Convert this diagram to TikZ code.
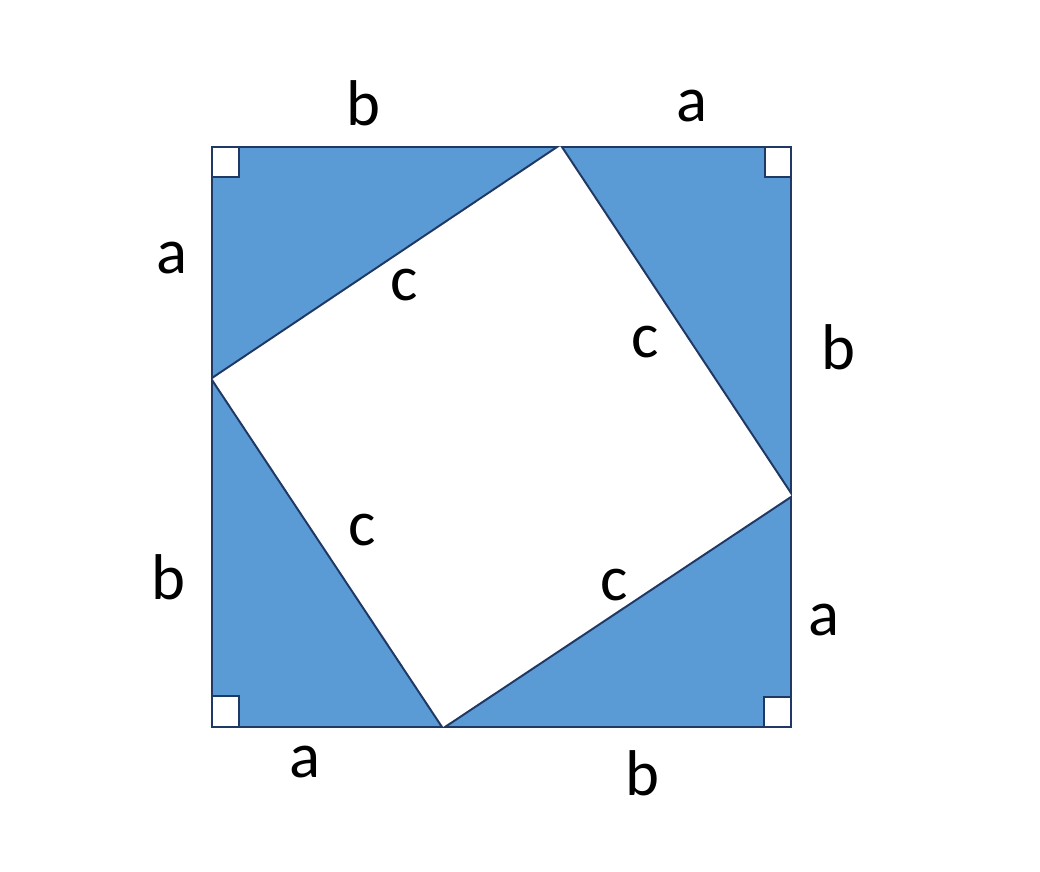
\documentclass[tikz,border=0pt]{standalone}
\usepackage{fontspec}
\setmainfont{Carlito}
\definecolor{edgeblue}{HTML}{203864}
\definecolor{fillblue}{HTML}{5B9BD5}

\begin{document}
\begin{tikzpicture}[
    x=0.025cm, y=-0.025cm,
    tri/.style={draw=edgeblue, fill=fillblue, line width=1.4pt, line join=miter},
    corner/.style={draw=edgeblue, fill=white, line width=1.4pt},
    lbl/.style={font=\fontsize{46}{50}\selectfont, inner sep=0pt}
]
\useasboundingbox (0,0) rectangle (1040,872);

% Vertices
\coordinate (tl) at (212,147);
\coordinate (tr) at (791,147);
\coordinate (bl) at (212,727);
\coordinate (br) at (791,727);
\coordinate (top1) at (557,147);
\coordinate (top2) at (562,147);
\coordinate (right1) at (791,493);
\coordinate (right2) at (791,497);
\coordinate (bot1) at (442,727);
\coordinate (bot2) at (445,727);
\coordinate (left1) at (212,378);
\coordinate (left2) at (212,380);

% Four right triangles
\draw[tri] (tl) -- (top1) -- (left1) -- cycle;
\draw[tri] (top2) -- (tr) -- (right1) -- cycle;
\draw[tri] (right2) -- (br) -- (bot2) -- cycle;
\draw[tri] (left2) -- (bl) -- (bot1) -- cycle;

% Right-angle marks
\draw[corner] (tl) rectangle ++(27,30);
\draw[corner] (tr) rectangle ++(-26,30);
\draw[corner] (bl) rectangle ++(27,-31);
\draw[corner] (br) rectangle ++(-27,-30);

% Labels
\node[lbl] (btop) at (363,103) {b};
\node[lbl] (atop) at (692,106) {a};
\node[lbl] (aleft) at (172,258) {a};
\node[lbl] (c1) at (404,285) {c};
\node[lbl] (c2) at (645,342) {c};
\node[lbl] (bright) at (838,347) {b};
\node[lbl] (c3) at (362,530) {c};
\node[lbl] (bleft) at (168,577) {b};
\node[lbl] (c4) at (614,585) {c};
\node[lbl] (aright) at (824,620) {a};
\node[lbl] (abot) at (305,762) {a};
\node[lbl] (bbot) at (642,773) {b};

\end{tikzpicture}
\end{document}
